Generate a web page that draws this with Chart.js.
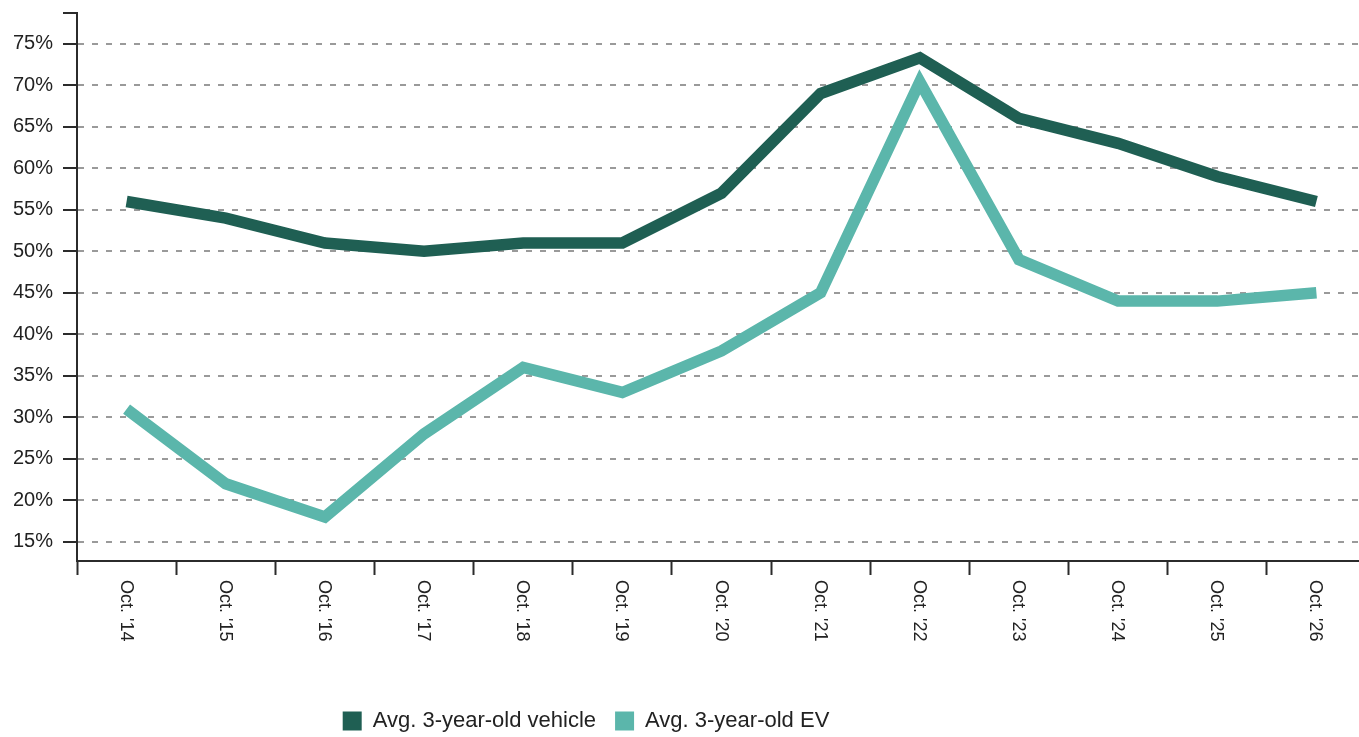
<!DOCTYPE html>
<html>
<head>
<meta charset="utf-8">
<script src="https://cdn.jsdelivr.net/npm/chart.js@4.4.1/dist/chart.umd.min.js"></script>
<style>
  html, body { margin: 0; padding: 0; background: #fff; overflow: hidden; }
  #wrap { position: relative; width: 1366px; height: 737px; }
</style>
</head>
<body>
<div id="wrap"><canvas id="grafico"></canvas></div>
<script>
const categorias = ["Oct. '14", "Oct. '15", "Oct. '16", "Oct. '17", "Oct. '18", "Oct. '19", "Oct. '20",
    "Oct. '21", "Oct. '22", "Oct. '23", "Oct. '24", "Oct. '25", "Oct. '26"];
const veiculo = [56, 54, 51, 50, 51, 51, 57, 69, 73.3, 66, 63, 59, 56];
const veiculoEV = [31, 22, 18, 28, 36, 33, 38, 45, 70.4, 49, 44, 44, 45];
const yTicks = [15, 20, 25, 30, 35, 40, 45, 50, 55, 60, 65, 70, 75];
const yMin = 12.7;
const yMax = 78.7;

const corEscura = '#1f5f53';
const corClara = '#5bb6ab';
const corEixo = '#2b2b2b';

Chart.defaults.font.family = '"Liberation Sans", Arial, Helvetica, sans-serif';
Chart.defaults.color = '#222';

// x labels read top-to-bottom, so they are drawn here instead of by the scale
const rotuloX = {
    id: 'rotuloX',
    afterDraw(chart) {
        const sx = chart.scales.x;
        const ctx = chart.ctx;
        ctx.save();
        ctx.font = '18px "Liberation Sans", Arial, sans-serif';
        ctx.fillStyle = '#222';
        ctx.textAlign = 'left';
        ctx.textBaseline = 'middle';
        categorias.forEach((c, i) => {
            ctx.save();
            ctx.translate(sx.getPixelForValue(i) - 1, sx.top + 19);
            ctx.rotate(Math.PI / 2);
            ctx.fillText(c, 0, 0);
            ctx.restore();
        });
        ctx.restore();
    }
};

const moveLegenda = {
    id: 'moveLegenda',
    afterLayout(chart) {
        const lg = chart.legend;
        lg.left -= 97; lg.right -= 97;
        lg.top += 5; lg.bottom += 5;
    }
};

const ctx = document.getElementById('grafico').getContext('2d');
const grafico = new Chart(ctx, {
    type: 'line',
    data: {
        labels: categorias,
        datasets: [{
            label: 'Avg. 3-year-old vehicle',
            data: veiculo,
            borderColor: corEscura,
            backgroundColor: corEscura,
            borderWidth: 11.5,
            borderJoinStyle: 'miter',
            borderCapStyle: 'butt',
            pointRadius: 0,
            tension: 0
        }, {
            label: 'Avg. 3-year-old EV',
            data: veiculoEV,
            borderColor: corClara,
            backgroundColor: corClara,
            borderWidth: 11.5,
            borderJoinStyle: 'miter',
            borderCapStyle: 'butt',
            pointRadius: 0,
            tension: 0
        }]
    },
    options: {
        responsive: true,
        maintainAspectRatio: false,
        animation: false,
        layout: { padding: { top: 13, left: 0, right: 0, bottom: 0 } },
        plugins: {
            tooltip: { enabled: false },
            legend: {
                position: 'bottom',
                labels: {
                    boxWidth: 19,
                    boxHeight: 19,
                    padding: 19,
                    font: { size: 22 },
                    color: '#222',
                    generateLabels(chart) {
                        return Chart.defaults.plugins.legend.labels.generateLabels(chart)
                            .map(l => ({ ...l, lineWidth: 0 }));
                    }
                }
            }
        },
        scales: {
            x: {
                offset: true,
                grid: {
                    offset: true,
                    drawOnChartArea: false,
                    tickLength: 14,
                    tickColor: corEixo,
                    tickWidth: 2
                },
                border: { color: corEixo, width: 2 },
                ticks: { display: false },
                afterFit(scale) { scale.height = 125; }
            },
            y: {
                min: yMin,
                max: yMax,
                afterBuildTicks(scale) {
                    scale.ticks = yTicks.concat([yMax]).map(v => ({ value: v }));
                },
                grid: {
                    color: c => (c.tick && c.tick.value === yMax) ? 'rgba(0,0,0,0)' : '#9a9a9a',
                    lineWidth: 2,
                    tickLength: 14,
                    tickColor: corEixo,
                    tickWidth: 2
                },
                border: { color: corEixo, width: 2, dash: [6, 8] },
                ticks: {
                    padding: 10,
                    font: { size: 20 },
                    color: '#222',
                    callback: v => v === yMax ? '' : v + '%'
                },
                afterFit(scale) {
                    scale.width = 77;
                    scale.paddingTop = 0;
                    scale.paddingBottom = 0;
                }
            }
        }
    },
    plugins: [rotuloX, moveLegenda]
});
</script>
</body>
</html>
